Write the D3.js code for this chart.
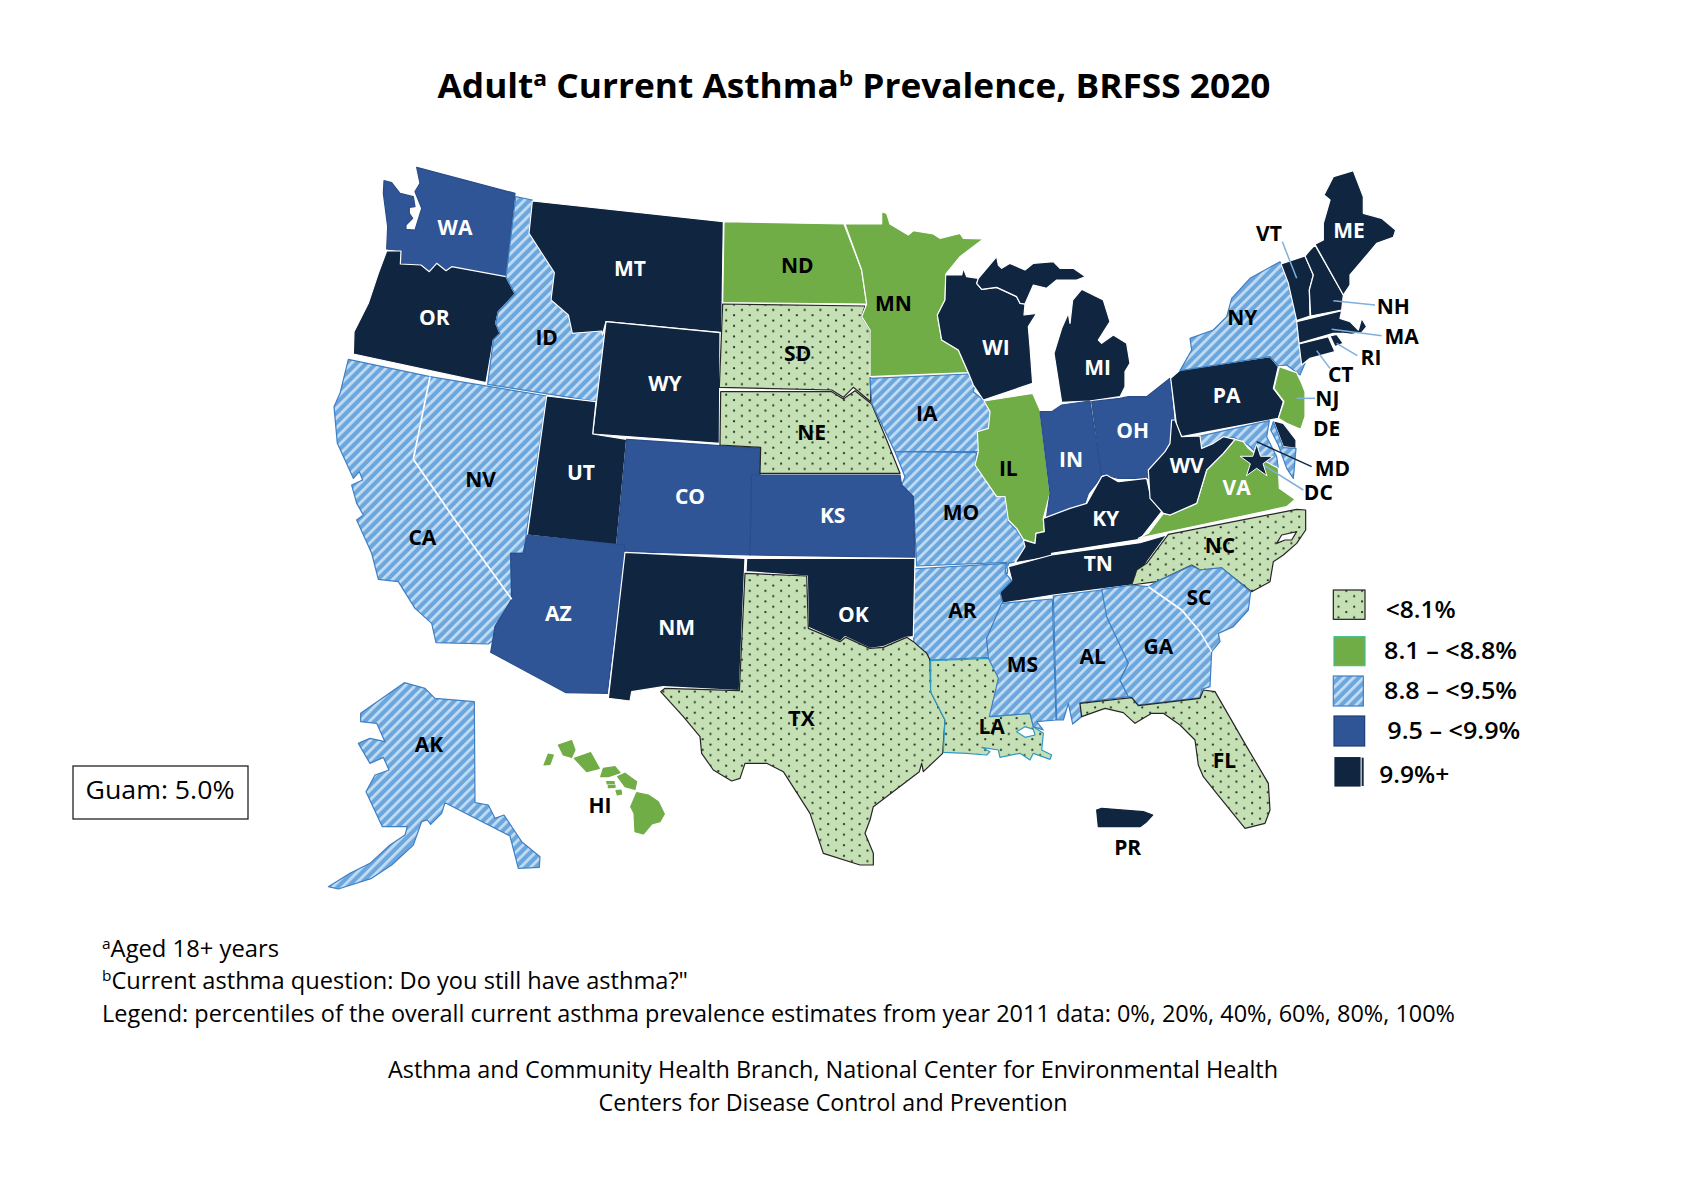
<!DOCTYPE html>
<html>
<head>
<meta charset="utf-8">
<script src="https://cdn.jsdelivr.net/npm/d3@7"></script>
<style>
  html, body { margin: 0; background: #fff; }
  text { font-family: "Open Sans", sans-serif; }
</style>
</head>
<body>
<svg id="chart" width="1695" height="1202"></svg>
<script>
// prevalence classes, lowest first
var classIds = ['low', 'midLow', 'mid', 'midHigh', 'high'];
var classLabels = ['<8.1%', '8.1 \u2013 <8.8%', '8.8 \u2013 <9.5%', '9.5 \u2013 <9.9%', '9.9%+'];

var lowStates = ['SD', 'NE', 'TX', 'LA', 'FL', 'NC'];
var midLowStates = ['ND', 'MN', 'IL', 'VA', 'NJ', 'HI'];
var midStates = ['ID', 'NV', 'CA', 'AK', 'IA', 'MO', 'AR', 'MS', 'AL', 'GA', 'SC', 'NY', 'MD'];
var midHighStates = ['WA', 'CO', 'AZ', 'KS', 'IN', 'OH'];
var highStates = ['OR', 'MT', 'WY', 'UT', 'NM', 'OK', 'WI', 'MI', 'KY', 'TN', 'WV', 'PA', 'ME', 'VT', 'NH', 'MA', 'CT', 'RI', 'DE', 'PR', 'DC'];

var guamValue = '5.0%';

// state outlines. Each sheet has its own origin, traced at 3x
var sheetOrigins = { nw: [320, 150], sw: [320, 520], nc: [700, 200], ne: [1000, 150], sc: [700, 520], se: [1100, 520] };

var outlinesNw = {
  WA: [[[290,52],[585,130],[558,380],[395,350],[378,362],[350,340],[328,365],[303,345],[243,342],[245,303],[200,297],[203,230],[190,130],[192,92],[215,98],[240,130],[280,140],[285,170],[268,172],[268,190],[278,205],[258,225],[258,238],[285,240],[305,175],[285,125],[300,100]]],
  OR: [[[200,303],[243,303],[241,342],[303,345],[328,365],[350,340],[378,362],[395,350],[558,380],[585,432],[535,485],[527,520],[540,550],[520,570],[498,698],[100,612],[102,545],[145,460],[175,370]]],
  ID: [[[587,140],[637,150],[627,250],[703,368],[693,450],[745,495],[757,550],[845,543],[855,565],[830,755],[503,703],[520,570],[540,550],[527,520],[535,485],[585,432],[558,380],[580,200]]],
  MT: [[[637,153],[1210,215],[1205,548],[858,515],[847,555],[845,543],[757,550],[745,495],[693,450],[703,368],[627,250]]],
  WY: [[[858,515],[1200,548],[1198,880],[818,852]]],
  CA: [[[85,628],[330,680],[280,928],[405,1110],[575,1348],[525,1430],[533,1460],[505,1482],[348,1478],[335,1420],[285,1375],[235,1295],[175,1288],[155,1210],[110,1110],[130,1095],[110,1060],[95,1005],[128,990],[118,965],[100,985],[52,880],[42,770],[60,730]]],
  NV: [[[330,680],[680,738],[625,1110],[610,1210],[572,1210],[575,1348],[405,1110],[280,928]]],
  UT: [[[680,738],[828,755],[818,852],[920,868],[890,1185],[622,1155]]],
  CO: [[[920,868],[1322,895],[1320,975],[1297,975],[1290,1215],[915,1205],[890,1185]]]
};

var outlinesSw = {
  AZ: [[[622,45],[912,75],[915,95],[862,520],[738,518],[512,397],[525,320],[575,238],[572,100],[610,100]]],
  NM: [[[915,97],[1275,115],[1258,512],[1030,500],[935,515],[930,543],[865,535]]],
  AK: [[[253,488],[315,505],[345,535],[463,545],[465,848],[505,855],[525,895],[552,885],[605,965],[660,1010],[658,1042],[595,1045],[570,948],[375,848],[365,880],[332,913],[322,900],[305,905],[280,975],[215,1035],[155,1075],[55,1107],[25,1100],[90,1060],[150,1030],[210,975],[255,945],[262,920],[187,920],[138,815],[165,765],[207,750],[190,712],[150,730],[115,670],[150,655],[195,665],[170,610],[122,605],[122,580]]],
  HI: [[[715,675],[755,662],[765,690],[755,712],[730,705]],
       [[685,702],[700,705],[690,733],[672,735]],
       [[763,715],[812,698],[838,745],[800,755]],
       [[850,745],[885,740],[900,758],[865,770],[842,770]],
       [[893,770],[915,760],[950,785],[945,808],[915,800]],
       [[888,812],[903,810],[905,822],[892,825]],
       [[860,785],[882,785],[883,790],[862,792]],
       [[865,797],[885,795],[885,802],[865,803]],
       [[950,818],[985,825],[1015,845],[1033,882],[1020,905],[995,912],[970,942],[945,935],[942,880],[932,860]]]
};

var outlinesNc = {
  ND: [[[72,65],[432,72],[485,210],[500,312],[68,308]]],
  SD: [[[68,312],[495,318],[485,350],[510,390],[512,605],[460,562],[430,592],[395,570],[58,562]]],
  NE: [[[62,575],[395,575],[430,597],[465,572],[515,612],[560,720],[600,820],[180,820],[182,742],[60,735]]],
  MN: [[[435,72],[545,72],[545,35],[560,40],[570,72],[625,105],[640,92],[700,102],[720,115],[780,100],[790,115],[850,117],[780,170],[738,222],[735,300],[712,345],[725,420],[775,450],[805,518],[510,530],[510,390],[485,350],[500,312],[485,210]]],
  IA: [[[510,535],[805,522],[825,555],[820,575],[850,600],[870,635],[865,685],[832,695],[838,755],[585,755],[515,610]]],
  MO: [[[585,755],[830,758],[825,795],[885,865],[890,890],[915,890],[925,965],[950,990],[980,1040],[948,1085],[925,1090],[922,1120],[905,1120],[920,1087],[650,1098],[640,890],[605,855],[615,830]]],
  KS: [[[155,825],[600,825],[605,855],[640,890],[645,1072],[150,1065]]],
  WI: [[[737,225],[785,225],[790,205],[800,230],[835,235],[830,250],[845,268],[890,262],[950,290],[960,310],[975,312],[972,345],[1010,340],[985,380],[990,440],[998,550],[850,600],[820,555],[805,518],[775,450],[725,420],[712,345],[735,300]]],
  MI: [[[835,235],[890,170],[895,195],[905,205],[930,190],[975,210],[1000,190],[1060,185],[1080,205],[1120,205],[1157,230],[1130,240],[1070,240],[1040,265],[1000,255],[975,312],[960,310],[950,290],[890,262],[845,268],[830,250]],
       [[1145,268],[1210,300],[1230,365],[1195,420],[1205,430],[1240,405],[1280,430],[1290,490],[1275,515],[1275,560],[1260,590],[1168,603],[1085,607],[1062,460],[1085,385],[1105,340],[1110,370],[1118,300]]],
  IL: [[[852,603],[998,580],[1020,630],[1050,880],[1030,955],[1033,995],[1008,1000],[1005,1030],[970,1018],[950,985],[925,960],[915,890],[890,890],[825,795],[835,755],[832,695],[865,685],[870,635]]],
  IN: [[[1020,635],[1055,635],[1085,615],[1170,603],[1205,830],[1165,880],[1155,910],[1105,930],[1040,950],[1050,880]]],
  OH: [[[1175,605],[1260,595],[1285,590],[1340,590],[1410,535],[1422,660],[1412,745],[1350,800],[1345,835],[1255,835],[1215,825],[1205,825]]],
  KY: [[[1205,830],[1220,825],[1255,845],[1340,835],[1350,880],[1385,935],[1320,1018],[1055,1060],[1055,1070],[945,1088],[975,1040],[970,1020],[1005,1030],[1008,1000],[1033,995],[1030,955],[1110,925],[1160,910]]]
};

var outlinesNe = {
  PA: [[[512,685],[540,660],[810,620],[835,650],[820,715],[850,755],[835,805],[545,860],[530,830]]],
  NY: [[[840,335],[865,400],[895,520],[900,590],[915,640],[900,675],[860,645],[835,648],[810,620],[540,662],[575,600],[570,565],[640,540],[680,500],[695,445],[750,385]]],
  VT: [[[843,342],[915,318],[940,375],[928,420],[930,498],[890,512],[865,400]]],
  NH: [[[915,318],[930,300],[945,285],[1030,435],[1025,480],[932,498],[928,420],[940,375]]],
  ME: [[[945,283],[970,270],[970,220],[990,150],[972,135],[1000,80],[1060,62],[1090,140],[1090,190],[1145,205],[1187,240],[1180,262],[1130,280],[1105,310],[1050,375],[1050,405],[1030,435]]],
  MA: [[[890,515],[1025,482],[1020,505],[1050,515],[1075,540],[1085,505],[1100,530],[1085,548],[1055,553],[1030,550],[1000,550],[897,580]]],
  CT: [[[897,582],[985,560],[1005,605],[930,625],[905,645]]],
  RI: [[[990,558],[1010,553],[1030,580],[1005,590]]],
  NJ: [[[838,650],[890,668],[905,700],[915,725],[915,800],[902,838],[860,820],[835,805],[852,755],[822,715]]],
  DE: [[[820,812],[850,820],[888,870],[888,895],[850,890]]],
  MD: [[[593,860],[808,812],[800,860],[830,920],[835,955],[790,930],[745,885],[700,862],[665,865],[640,880],[605,895]],
       [[820,815],[850,893],[888,895],[880,985],[860,955],[835,885],[812,840]]],
  VA: [[[705,868],[730,875],[745,895],[790,930],[835,955],[838,1015],[885,1048],[860,1070],[415,1165],[445,1150],[490,1090],[510,1095],[590,1060],[620,960],[670,910]]],
  WV: [[[515,810],[525,810],[545,860],[600,858],[605,895],[640,880],[670,860],[705,868],[670,910],[620,960],[590,1060],[510,1095],[490,1090],[450,1045],[445,960],[495,905],[510,880]]]
};

var outlinesSc = {
  TN: [[[945,135],[1055,105],[1320,68],[1400,45],[1345,120],[1295,195],[1060,225],[905,250],[900,215],[935,180],[925,140]]],
  AR: [[[633,147],[920,130],[915,158],[935,182],[900,218],[910,255],[860,355],[868,412],[690,420],[678,395],[642,390],[640,300]]],
  OK: [[[140,115],[645,115],[640,350],[618,352],[550,380],[510,385],[435,350],[420,365],[325,322],[322,168],[138,155]]],
  TX: [[[135,160],[320,168],[325,325],[420,365],[437,352],[510,385],[550,382],[620,352],[640,365],[680,400],[690,420],[692,515],[735,600],[728,700],[670,755],[665,730],[658,755],[520,860],[510,900],[495,940],[520,1000],[520,1035],[480,1035],[370,1000],[330,880],[250,755],[200,730],[135,730],[120,775],[95,783],[40,750],[5,700],[0,650],[-50,590],[-118,515],[-105,505],[118,512]]],
  LA: [[[692,422],[868,415],[900,470],[875,590],[990,580],[1000,620],[1030,640],[1025,690],[1055,705],[1050,718],[1000,700],[990,720],[960,700],[900,712],[895,690],[845,682],[870,695],[860,705],[800,700],[730,697],[735,600],[692,515]],
       [[950,635],[975,620],[1000,628],[1005,645],[975,652]]],
  MS: [[[905,250],[1057,237],[1068,600],[1010,605],[1030,630],[1000,620],[990,580],[868,590],[895,475],[865,415],[860,355]]],
  AL: [[[1060,228],[1205,210],[1285,430],[1260,480],[1285,530],[1140,548],[1145,590],[1118,612],[1105,550],[1090,600],[1070,600]]],
  PR: [[[1190,870],[1205,865],[1330,875],[1358,885],[1340,905],[1320,920],[1195,920]]]
};

var outlinesSe = {
  NC: [[[205,43],[590,-32],[617,-30],[617,30],[590,70],[550,105],[520,125],[510,185],[455,215],[365,145],[300,150],[275,135],[170,185],[95,195],[110,150],[140,130]],
       [[530,70],[545,45],[590,35],[575,60],[555,60]]],
  SC: [[[170,185],[275,137],[300,150],[365,143],[452,215],[445,270],[400,320],[355,340],[360,365],[335,395],[300,335],[245,270],[145,200]]],
  GA: [[[5,208],[95,195],[145,200],[245,270],[300,335],[335,395],[330,500],[305,508],[300,533],[115,555],[95,533],[85,530],[60,480],[85,430],[20,290]]],
  FL: [[[-60,550],[95,533],[115,557],[300,535],[310,510],[345,515],[400,610],[440,680],[505,790],[510,870],[495,910],[435,925],[350,820],[310,770],[295,735],[285,660],[240,615],[190,580],[155,580],[105,610],[70,578],[15,565],[-55,590]]]
};

// the few borders inside the hatched class that show as white lines
var whiteBorderNw = [[330,680],[280,928],[405,1110],[575,1348]];
var whiteBorderSe = [[145,200],[245,270],[300,335],[335,395]];

// state label anchors, same sheets
var labelsNw = [['WA',405,233],['MT',930,355],['OR',343,502],['ID',680,563],['WY',1035,700],['NV',482,988],['UT',783,968],['CO',1110,1040],['CA',307,1163]];
var labelsSw = [['AK',327,672],['AZ',715,280],['NM',1070,322],['HI',840,856]];
var labelsNc = [['ND',292,197],['MN',580,310],['SD',293,460],['NE',335,697],['IA',680,640],['KS',398,945],['MO',783,937],['WI',888,443],['MI',1193,502],['IL',925,805],['IN',1113,778],['KY',1217,955],['OH',1298,692]];
var labelsNe = [['ME',1047,240],['VT',807,250],['NH',1180,470],['MA',1205,558],['RI',1113,622],['CT',1022,672],['NJ',982,745],['DE',980,835],['MD',997,955],['DC',955,1027],['NY',727,503],['PA',680,737],['WV',560,945],['VA',710,1013]];
var labelsSc = [['TX',305,595],['OK',460,283],['AR',787,272],['LA',875,620],['MS',967,432],['AL',1178,408],['GA',1375,380],['TN',1195,130],['PR',1283,982]];
var labelsSe = [['NC',360,75],['SC',297,232],['FL',373,720]];

// small northeast states get a leader line, traced on the ne sheet
var leaders = [['VT',847,275,890,385],['NH',1000,452,1125,465],['MA',995,538,1145,557],['RI',1010,580,1072,617],['CT',950,602,990,655],['NJ',890,745,945,745],['MD',770,875,935,950],['DC',790,945,910,1020]];
var dcStar = [770, 935];

var whiteLabels = ['WA','MT','OR','WY','UT','CO','AZ','NM','KS','WI','MI','IN','OH','KY','TN','OK','PA','WV','ME','VA'];

var svg = d3.select('#chart');
var defs = svg.append('defs');

// hatch for the 8.8 - <9.5 class
var hatch = defs.append('pattern').attr('id', 'hatch').attr('patternUnits', 'userSpaceOnUse')
  .attr('width', 7).attr('height', 7).attr('patternTransform', 'rotate(45)');
hatch.append('rect').attr('width', 7).attr('height', 7).attr('fill', '#6ba6dc');
hatch.append('rect').attr('width', 2.8).attr('height', 7).attr('fill', '#c2dcf4');

// staggered dots for the lowest class
var dots = defs.append('pattern').attr('id', 'dots').attr('patternUnits', 'userSpaceOnUse')
  .attr('width', 15.7).attr('height', 10.6);
dots.append('rect').attr('width', 15.7).attr('height', 10.6).attr('fill', '#c5e0b4');
dots.append('circle').attr('cx', 4).attr('cy', 2.6).attr('r', 1.1).attr('fill', '#1c2f20');
dots.append('circle').attr('cx', 11.85).attr('cy', 7.9).attr('r', 1.1).attr('fill', '#1c2f20');

var classFill = d3.scaleOrdinal().domain(classIds).range(['url(#dots)', '#70ad47', 'url(#hatch)', '#2f5597', '#10253f']);
var classStroke = d3.scaleOrdinal().domain(classIds).range(['#262626', '#ffffff', '#3f7fc4', '#2a4d8a', '#ffffff']);

var stateClass = d3.scaleOrdinal()
  .domain(lowStates.concat(midLowStates, midStates, midHighStates, highStates))
  .range(lowStates.map(function() { return 'low'; })
    .concat(midLowStates.map(function() { return 'midLow'; }),
      midStates.map(function() { return 'mid'; }),
      midHighStates.map(function() { return 'midHigh'; }),
      highStates.map(function() { return 'high'; })));

function sheetProjection(name) {
  return d3.geoIdentity().scale(1 / 3).translate(sheetOrigins[name]);
}

function strokeFor(code) {
  if (code === 'LA') return '#2e9ac4';
  if (code === 'HI') return '#70ad47';
  if (code === 'PR') return '#10253f';
  return classStroke(stateClass(code));
}

function drawStates(outlines, sheet) {
  var path = d3.geoPath(sheetProjection(sheet));
  var features = Object.keys(outlines).map(function(code) {
    var rings = outlines[code].map(function(r) { return r.concat([r[0]]); });
    // extra rings are islands or, under evenodd, lakes and sounds
    return { type: 'Feature', id: code, geometry: { type: 'MultiPolygon', coordinates: rings.map(function(r) { return [r]; }) } };
  });
  svg.append('g').selectAll('path').data(features).join('path')
    .attr('d', path)
    .attr('fill-rule', 'evenodd')
    .attr('fill', function(d) { return classFill(stateClass(d.id)); })
    .attr('stroke', function(d) { return strokeFor(d.id); })
    .attr('stroke-width', 1.2)
    .attr('stroke-linejoin', 'round');
}

function drawWhiteBorder(points, sheet) {
  svg.append('path')
    .datum({ type: 'LineString', coordinates: points })
    .attr('d', d3.geoPath(sheetProjection(sheet)))
    .attr('fill', 'none').attr('stroke', '#fff').attr('stroke-width', 1.8);
}

function drawLabels(labels, sheet) {
  var p = sheetProjection(sheet);
  svg.append('g').selectAll('text').data(labels).join('text')
    .attr('x', function(d) { return p([d[1], d[2]])[0]; })
    .attr('y', function(d) { return p([d[1], d[2]])[1]; })
    .attr('dy', '0.36em')
    .attr('text-anchor', 'middle')
    .attr('font-size', 21)
    .attr('font-weight', 700)
    .attr('fill', function(d) { return whiteLabels.indexOf(d[0]) >= 0 ? '#fff' : '#000'; })
    .text(function(d) { return d[0]; });
}

drawStates(outlinesNw, 'nw');
drawStates(outlinesSw, 'sw');
drawStates(outlinesNc, 'nc');
drawStates(outlinesSc, 'sc');
drawStates(outlinesNe, 'ne');
drawStates(outlinesSe, 'se');
drawWhiteBorder(whiteBorderNw, 'nw');
drawWhiteBorder(whiteBorderSe, 'se');

// leader lines
var neProj = sheetProjection('ne');
svg.append('g').selectAll('line').data(leaders).join('line')
  .attr('x1', function(d) { return neProj([d[1], d[2]])[0]; })
  .attr('y1', function(d) { return neProj([d[1], d[2]])[1]; })
  .attr('x2', function(d) { return neProj([d[3], d[4]])[0]; })
  .attr('y2', function(d) { return neProj([d[3], d[4]])[1]; })
  .attr('stroke', function(d) { return d[0] === 'MD' ? '#10253f' : '#7fb0dd'; })
  .attr('stroke-width', 1.5);

// DC star
svg.append('path')
  .attr('d', d3.symbol(d3.symbolStar, 340))
  .attr('transform', 'translate(' + neProj(dcStar) + ')')
  .attr('fill', classFill(stateClass('DC')))
  .attr('stroke', '#fff').attr('stroke-width', 1);

drawLabels(labelsNw, 'nw');
drawLabels(labelsSw, 'sw');
drawLabels(labelsNc, 'nc');
drawLabels(labelsNe, 'ne');
drawLabels(labelsSc, 'sc');
drawLabels(labelsSe, 'se');

// title, with superscripts
var title = svg.append('text').attr('x', 854).attr('y', 98)
  .attr('text-anchor', 'middle').attr('font-size', 34).attr('font-weight', 700)
  .attr('textLength', 833).attr('lengthAdjust', 'spacingAndGlyphs');
title.append('tspan').text('Adult');
title.append('tspan').attr('dy', -12).attr('font-size', 22).text('a');
title.append('tspan').attr('dy', 12).text(' Current Asthma');
title.append('tspan').attr('dy', -12).attr('font-size', 22).text('b');
title.append('tspan').attr('dy', 12).text(' Prevalence, BRFSS 2020');

// legend
var seProj = sheetProjection('se');
var legendBoxes = [[700,210,95,88],[702,350,93,87],[700,468,90,90],[702,588,92,90],[705,713,75,85]];
var legendText = [[857,270],[852,392],[852,513],[862,632],[838,763]];
var legendWidths = [70, 133, 133, 133, 70];
var legendStroke = ['#222', '#3fc08f', '#3f7fc4', '#1f3f78', '#10253f'];

var legend = svg.append('g');
classIds.forEach(function(id, i) {
  var o = seProj([legendBoxes[i][0], legendBoxes[i][1]]);
  legend.append('rect').attr('x', o[0]).attr('y', o[1])
    .attr('width', legendBoxes[i][2] / 3).attr('height', legendBoxes[i][3] / 3)
    .attr('fill', classFill(id)).attr('stroke', legendStroke[i]).attr('stroke-width', 1.2);
  var t = seProj(legendText[i]);
  legend.append('text').attr('x', t[0]).attr('y', t[1]).attr('dy', '0.36em')
    .attr('font-size', 23).attr('font-weight', 600)
    .attr('textLength', legendWidths[i]).attr('lengthAdjust', 'spacingAndGlyphs')
    .text(classLabels[i]);
});
// the thin bar beside the last swatch
var bar = seProj([785, 713]);
legend.append('rect').attr('x', bar[0]).attr('y', bar[1]).attr('width', 2).attr('height', 85 / 3).attr('fill', '#10253f');

// Guam box
svg.append('rect').attr('x', 73).attr('y', 766).attr('width', 175).attr('height', 53)
  .attr('fill', '#fff').attr('stroke', '#222').attr('stroke-width', 1.3);
svg.append('text').attr('x', 160).attr('y', 799).attr('text-anchor', 'middle')
  .attr('font-size', 26).attr('textLength', 149).attr('lengthAdjust', 'spacingAndGlyphs')
  .text('Guam: ' + guamValue);

// footnotes
function footnote(x, y, width, sup, str, anchor) {
  var t = svg.append('text').attr('x', x).attr('y', y).attr('font-size', 23)
    .attr('text-anchor', anchor || 'start')
    .attr('textLength', width).attr('lengthAdjust', 'spacingAndGlyphs');
  if (sup) {
    t.append('tspan').attr('dy', -8).attr('font-size', 15).text(sup);
    t.append('tspan').attr('dy', 8).text(str);
  } else {
    t.text(str);
  }
}
footnote(102, 957, 177, 'a', 'Aged 18+ years');
footnote(102, 989, 586, 'b', 'Current asthma question: Do you still have asthma?"');
footnote(102, 1022, 1353, null, 'Legend: percentiles of the overall current asthma prevalence estimates from year 2011 data: 0%, 20%, 40%, 60%, 80%, 100%');
footnote(833, 1078, 890, null, 'Asthma and Community Health Branch, National Center for Environmental Health', 'middle');
footnote(833, 1111, 469, null, 'Centers for Disease Control and Prevention', 'middle');
</script>
</body>
</html>
